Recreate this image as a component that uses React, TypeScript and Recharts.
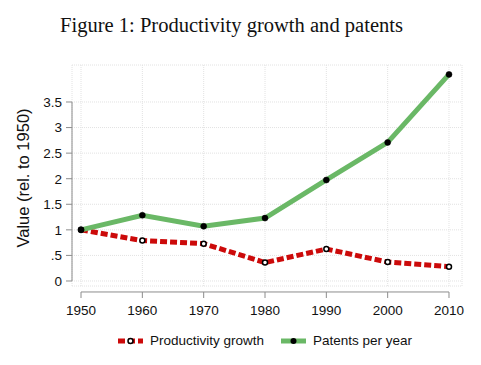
import React from "react";
import { LineChart, Line, XAxis, YAxis, CartesianGrid, ReferenceLine, Legend } from "recharts";

const YEARS = [1950, 1960, 1970, 1980, 1990, 2000, 2010];
const PRODUCTIVITY = [1.0, 0.79, 0.73, 0.36, 0.625, 0.37, 0.28];
const PATENTS = [1.0, 1.285, 1.07, 1.23, 1.975, 2.71, 4.04];
const Y_TICKS = [0, 0.5, 1, 1.5, 2, 2.5, 3, 3.5];
const Y_TICK_LABELS = ["0", ".5", "1", "1.5", "2", "2.5", "3", "3.5"];
const SERIES_ORDER = ["productivity", "patents"];

const data = YEARS.map((year, i) => ({ year, productivity: PRODUCTIVITY[i], patents: PATENTS[i] }));

const X_DOMAIN: [number, number] = [1948.53, 2012.12];
const Y_DOMAIN: [number, number] = [-0.098, 4.2235];

const RED = "#cc0a0a";
const GREEN = "#6ab866";
const AXIS = "#8c8c8c";
const SANS = "'Liberation Sans', Arial, sans-serif";

function XTick({ x, y, payload }: any) {
    return (
        <g>
            <line x1={x} x2={x} y1={y} y2={y + 6} stroke={AXIS} strokeWidth={1} />
            <text x={x} y={y + 23} textAnchor="middle" fontFamily={SANS} fontSize={13.5} fill="#111">
                {payload.value}
            </text>
        </g>
    );
}

function LegendKey({ color, dashed, hollow }: { color: string; dashed: boolean; hollow: boolean }) {
    return (
        <svg width={25} height={10} style={{ display: "block" }}>
            <line x1={0} x2={25} y1={5} y2={5} stroke={color} strokeWidth={5} strokeDasharray={dashed ? "7 3" : undefined} />
            <circle cx={12.5} cy={5} r={hollow ? 2.5 : 3} fill={hollow ? "#fff" : "#000"} stroke="#000" strokeWidth={hollow ? 1.5 : 0} />
        </svg>
    );
}

function renderLegend(props: any) {
    const items = [...(props.payload || [])].sort(
        (a: any, b: any) => SERIES_ORDER.indexOf(a.dataKey) - SERIES_ORDER.indexOf(b.dataKey)
    );
    return (
        <div style={{ display: "flex", alignItems: "center", fontFamily: SANS, fontSize: 13.5, color: "#111" }}>
            {items.map((item: any, i: number) => {
                const isProd = item.dataKey === "productivity";
                return (
                    <div key={i} style={{ display: "flex", alignItems: "center", marginLeft: i ? 17 : 0 }}>
                        <LegendKey color={isProd ? RED : GREEN} dashed={isProd} hollow={isProd} />
                        <span style={{ marginLeft: 7 }}>{item.value}</span>
                    </div>
                );
            })}
        </div>
    );
}

export default function App() {
    return (
        <div style={{ position: "absolute", left: 0, top: 0, background: "#fff" }}>
            <LineChart width={481} height={365} data={data} margin={{ top: 65, right: 19, bottom: 0, left: 0 }}>
                <text
                    x={231.5}
                    y={32}
                    textAnchor="middle"
                    fontFamily="'Liberation Serif', 'Times New Roman', serif"
                    fontSize={20}
                    textLength={343}
                    lengthAdjust="spacingAndGlyphs"
                    fill="#111"
                >
                    Figure 1: Productivity growth and patents
                </text>
                <text
                    x={29}
                    y={178}
                    transform="rotate(-90 29 178)"
                    textAnchor="middle"
                    fontFamily={SANS}
                    fontSize={16.5}
                    fill="#111"
                >
                    Value (rel. to 1950)
                </text>
                <CartesianGrid stroke="#e2e2e2" strokeDasharray="1 1" />
                <XAxis
                    dataKey="year"
                    type="number"
                    domain={X_DOMAIN}
                    ticks={YEARS}
                    height={79}
                    axisLine={false}
                    tickLine={false}
                    tickSize={6}
                    tickMargin={0}
                    tick={<XTick />}
                    interval={0}
                />
                <YAxis
                    type="number"
                    domain={Y_DOMAIN}
                    ticks={Y_TICKS}
                    width={72}
                    axisLine={false}
                    tickLine={{ stroke: AXIS }}
                    tickSize={6}
                    tickMargin={4}
                    interval={0}
                    tick={{ fontFamily: SANS, fontSize: 13.5, fill: "#111" }}
                    tickFormatter={(v: number) => Y_TICK_LABELS[Y_TICKS.indexOf(v)] ?? String(v)}
                />
                <ReferenceLine
                    segment={[{ x: X_DOMAIN[0], y: 0 }, { x: X_DOMAIN[0], y: 3.5 }]}
                    stroke={AXIS}
                    ifOverflow="visible"
                />
                <ReferenceLine
                    segment={[{ x: 1950, y: -0.215 }, { x: 2010, y: -0.215 }]}
                    stroke={AXIS}
                    ifOverflow="visible"
                />
                <Legend
                    layout="horizontal"
                    verticalAlign="middle"
                    align="center"
                    content={renderLegend}
                    wrapperStyle={{ left: 118, top: 333, width: "auto" }}
                />
                <Line
                    dataKey="productivity"
                    name="Productivity growth"
                    stroke={RED}
                    strokeWidth={5}
                    strokeDasharray="7 3"
                    dot={{ r: 2.5, fill: "#fff", stroke: "#000", strokeWidth: 1.5, strokeDasharray: "" }}
                    isAnimationActive={false}
                />
                <Line
                    dataKey="patents"
                    name="Patents per year"
                    stroke={GREEN}
                    strokeWidth={5}
                    dot={{ r: 3, fill: "#000", stroke: "#000", strokeWidth: 0.5 }}
                    isAnimationActive={false}
                />
            </LineChart>
        </div>
    );
}
